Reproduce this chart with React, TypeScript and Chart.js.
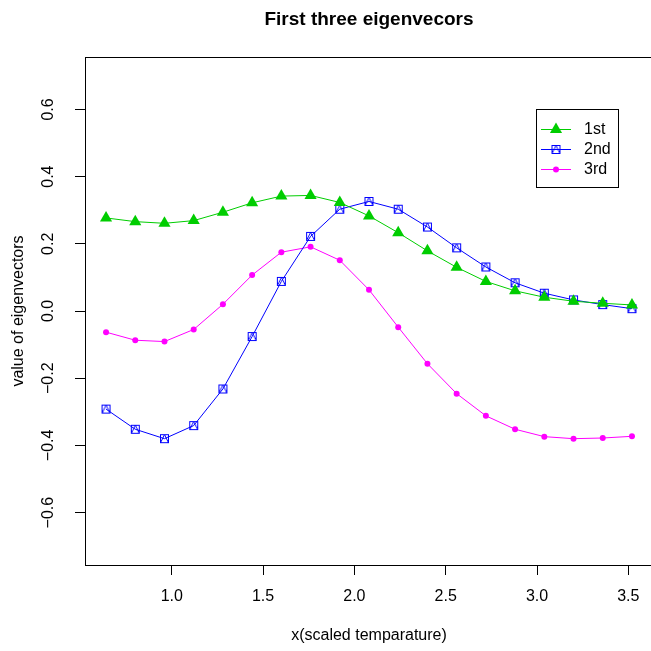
import React, { useEffect, useRef } from "react";
import { Chart, registerables } from "chart.js";

Chart.register(...registerables);

const xValues = [0.64, 0.8, 0.96, 1.12, 1.28, 1.44, 1.6, 1.76, 1.92, 2.08, 2.24, 2.4, 2.56, 2.72, 2.88, 3.04, 3.2, 3.36, 3.52];
const firstVec = [0.277, 0.266, 0.261, 0.269, 0.294, 0.322, 0.342, 0.344, 0.323, 0.283, 0.233, 0.179, 0.13, 0.088, 0.06, 0.041, 0.029, 0.023, 0.018];
const secondVec = [-0.292, -0.352, -0.38, -0.341, -0.232, -0.076, 0.088, 0.222, 0.303, 0.326, 0.303, 0.25, 0.188, 0.131, 0.084, 0.053, 0.033, 0.019, 0.007];
const thirdVec = [-0.063, -0.087, -0.091, -0.055, 0.02, 0.107, 0.175, 0.191, 0.151, 0.063, -0.048, -0.157, -0.246, -0.312, -0.352, -0.374, -0.38, -0.378, -0.373];
const seriesNames = ["1st", "2nd", "3rd"];
const xTicks = [1.0, 1.5, 2.0, 2.5, 3.0, 3.5];
const yTicks = [-0.6, -0.4, -0.2, 0.0, 0.2, 0.4, 0.6];
const titleText = "First three eigenvecors";
const xTitle = "x(scaled temparature)";
const yTitle = "value of eigenvectors";

const FONT = "'Liberation Sans', Arial, Helvetica, sans-serif";
const GREEN = "#00CD00";
const BLUE = "#0000FF";
const MAGENTA = "#FF00FF";

function makeSquareTriangle(color: string): HTMLCanvasElement {
  const c = document.createElement("canvas");
  c.width = 11;
  c.height = 11;
  const g = c.getContext("2d")!;
  g.strokeStyle = color;
  g.lineWidth = 1;
  g.strokeRect(1.5, 1.5, 8, 8);
  g.beginPath();
  g.moveTo(5.5, 1.5);
  g.lineTo(9.5, 9.5);
  g.lineTo(1.5, 9.5);
  g.closePath();
  g.stroke();
  return c;
}

function fmt(v: number): string {
  return v.toFixed(1).replace("-", "\u2212");
}

export default function App() {
  const ref = useRef<HTMLCanvasElement | null>(null);

  useEffect(() => {
    const canvas = ref.current;
    if (!canvas) return;
    const sqTri = makeSquareTriangle(BLUE);
    const toPts = (arr: number[]) => arr.map((y, i) => ({ x: xValues[i], y }));

    const rPlugin = {
      id: "rstyle",
      afterDraw(chart: any) {
        const { ctx, chartArea } = chart;
        ctx.save();
        ctx.strokeStyle = "#000";
        ctx.lineWidth = 1;
        ctx.strokeRect(
          Math.round(chartArea.left) + 0.5,
          Math.round(chartArea.top) + 0.5,
          Math.round(chartArea.right - chartArea.left),
          Math.round(chartArea.bottom - chartArea.top)
        );
        // legend
        const lx = 536.5, ly = 109.5, lw = 82, lh = 78;
        ctx.fillStyle = "#fff";
        ctx.fillRect(lx, ly, lw, lh);
        ctx.strokeRect(lx, ly, lw, lh);
        const rows = [129.5, 149.5, 169.5];
        chart.data.datasets.forEach((ds: any, i: number) => {
          const y = rows[i];
          ctx.strokeStyle = ds.borderColor;
          ctx.lineWidth = 1;
          ctx.beginPath();
          ctx.moveTo(541, y);
          ctx.lineTo(571, y);
          ctx.stroke();
          if (ds.pointStyle === "triangle") {
            const r = ds.pointRadius;
            ctx.fillStyle = ds.pointBackgroundColor;
            ctx.beginPath();
            ctx.moveTo(556, y - r);
            ctx.lineTo(556 + r * 0.866, y + r / 2);
            ctx.lineTo(556 - r * 0.866, y + r / 2);
            ctx.closePath();
            ctx.fill();
          } else if (ds.pointStyle === "circle") {
            ctx.fillStyle = ds.pointBackgroundColor;
            ctx.beginPath();
            ctx.arc(556, y, ds.pointRadius, 0, Math.PI * 2);
            ctx.fill();
          } else {
            const img = ds.pointStyle as HTMLCanvasElement;
            ctx.drawImage(img, 556 - img.width / 2, y - img.height / 2);
          }
          ctx.fillStyle = "#000";
          ctx.font = `16px ${FONT}`;
          ctx.textAlign = "left";
          ctx.textBaseline = "middle";
          ctx.fillText(ds.label, 584, y);
        });
        ctx.restore();
      },
    };

    const chart = new Chart(canvas, {
      type: "scatter",
      data: {
        datasets: [
          {
            label: seriesNames[0],
            data: toPts(firstVec),
            showLine: true,
            borderColor: GREEN,
            borderWidth: 1,
            pointStyle: "triangle",
            pointRadius: 7,
            pointBackgroundColor: GREEN,
            pointBorderWidth: 0,
          },
          {
            label: seriesNames[1],
            data: toPts(secondVec),
            showLine: true,
            borderColor: BLUE,
            borderWidth: 1,
            pointStyle: sqTri as any,
            pointRadius: 5,
            pointBackgroundColor: BLUE,
            pointBorderWidth: 0,
          },
          {
            label: seriesNames[2],
            data: toPts(thirdVec),
            showLine: true,
            borderColor: MAGENTA,
            borderWidth: 1,
            pointStyle: "circle",
            pointRadius: 3,
            pointBackgroundColor: MAGENTA,
            pointBorderWidth: 0,
          },
        ],
      },
      options: {
        responsive: false,
        animation: false,
        devicePixelRatio: 1,
        layout: { padding: { left: 0, right: 9, top: 0, bottom: 0 } },
        plugins: {
          legend: { display: false },
          tooltip: { enabled: false },
          title: {
            display: true,
            text: titleText,
            fullSize: false,
            color: "#000",
            font: { family: FONT, size: 19, weight: "bold", lineHeight: 1.2 },
            padding: { top: 8, bottom: 26.2 },
          },
        },
        scales: {
          x: {
            type: "linear",
            min: 0.5248,
            max: 3.6352,
            afterBuildTicks: (s: any) => {
              s.ticks = xTicks.map((v) => ({ value: v }));
            },
            afterFit: (s: any) => {
              s.height = 86;
            },
            border: { display: false },
            grid: { drawOnChartArea: false, drawTicks: true, tickLength: 10, tickColor: "#000", tickWidth: 1 },
            ticks: {
              color: "#000",
              font: { family: FONT, size: 16 },
              padding: 12,
              maxRotation: 0,
              autoSkip: false,
              callback: (v: any) => fmt(Number(v)),
            },
            title: {
              display: true,
              text: xTitle,
              color: "#000",
              font: { family: FONT, size: 16 },
              padding: { top: 0, bottom: 6 },
            },
          },
          y: {
            type: "linear",
            min: -0.756,
            max: 0.756,
            afterBuildTicks: (s: any) => {
              s.ticks = yTicks.map((v) => ({ value: v }));
            },
            afterFit: (s: any) => {
              s.width = 85;
            },
            border: { display: false },
            grid: { drawOnChartArea: false, drawTicks: true, tickLength: 10, tickColor: "#000", tickWidth: 1 },
            ticks: {
              color: "#000",
              font: { family: FONT, size: 16 },
              padding: 11,
              minRotation: 90,
              maxRotation: 90,
              crossAlign: "center",
              autoSkip: false,
              callback: (v: any) => fmt(Number(v)),
            },
            title: {
              display: true,
              text: yTitle,
              color: "#000",
              font: { family: FONT, size: 16 },
              padding: { top: 9, bottom: 0 },
            },
          },
        },
      },
      plugins: [rPlugin],
    } as any);

    return () => chart.destroy();
  }, []);

  return (
    <div
      style={{
        position: "fixed",
        left: 0,
        top: 0,
        width: 651,
        height: 651,
        overflow: "hidden",
        background: "#fff",
      }}
    >
      <canvas ref={ref} width={662} height={651} style={{ display: "block", width: 662, height: 651 }} />
    </div>
  );
}
